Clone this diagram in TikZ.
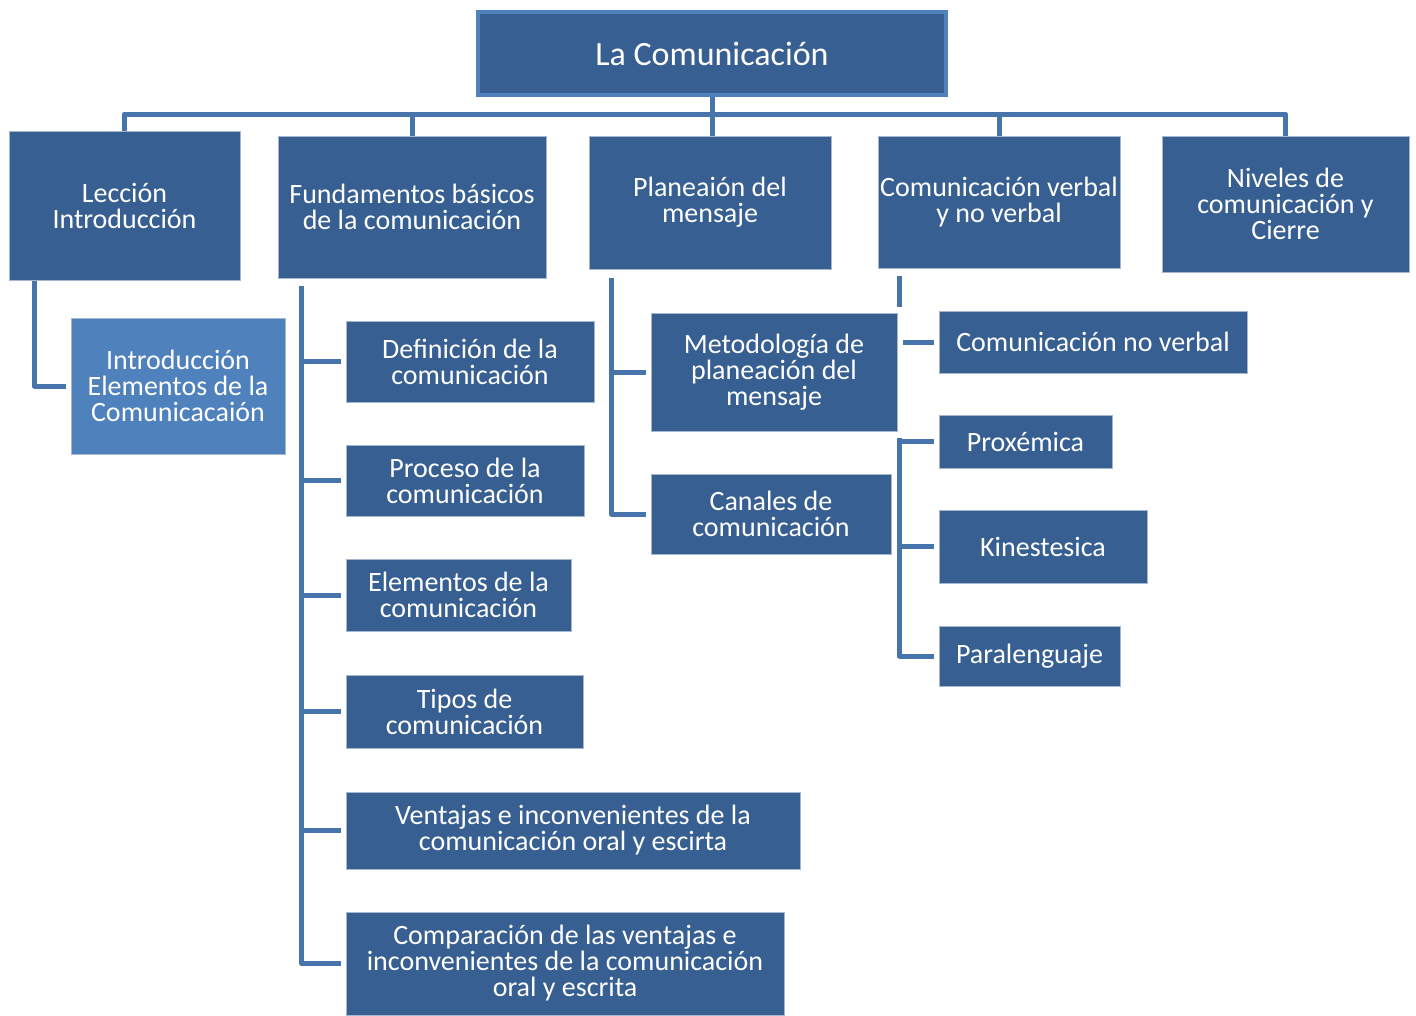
\documentclass[tikz,border=0pt]{standalone}
\usepackage{fontspec}
\setmainfont{Carlito}
\usepackage{tikz}
\usetikzlibrary{positioning,calc}

\definecolor{boxblue}{HTML}{375F91}
\definecolor{lightblue}{HTML}{4F81BD}
\definecolor{linkblue}{HTML}{4874AC}

\begin{document}
\begin{tikzpicture}[
    x=1pt, y=-1pt,
    box/.style={rectangle, fill=boxblue, draw=white!55!boxblue, line width=1pt, text=white,
        align=center, inner sep=2pt, font=\fontsize{28}{26}\selectfont},
    lightbox/.style={box, fill=lightblue},
    rootbox/.style={box, draw=lightblue, line width=4pt, font=\fontsize{34}{34}\selectfont},
    conn/.style={draw=linkblue, line width=5pt, line join=round}
]
    \useasboundingbox (0,0) rectangle (1416,1015);

    % top level
    \node[rootbox, minimum width=468pt, minimum height=83pt] (root) at (712,53.5) {La Comunicación};

    \node[box, minimum width=231pt, minimum height=149pt] (leccion) at (124.5,205.5) {Lección\\Introducción};
    \node[box, minimum width=268pt, minimum height=142pt] (fund) at (412,207) {Fundamentos básicos\\de la comunicación};
    \node[box, minimum width=242pt, minimum height=133pt] (plan) at (710,202.5) {Planeaión del\\mensaje};
    \node[box, minimum width=242pt, minimum height=132pt] (verbal) at (999,202) {Comunicación verbal\\y no verbal};
    \node[box, minimum width=247pt, minimum height=136pt] (niveles) at (1285.5,204) {Niveles de\\comunicación y\\Cierre};

    % second level
    \node[lightbox, minimum width=214pt, minimum height=136pt] (intro) at (178,386) {Introducción\\Elementos de la\\Comunicacaión};

    \node[box, minimum width=248pt, minimum height=81pt] (definicion) at (470,361.5) {Definición de la\\comunicación};
    \node[box, minimum width=238pt, minimum height=71pt] (proceso) at (465,480.5) {Proceso de la\\comunicación};
    \node[box, minimum width=225pt, minimum height=72pt] (elementos) at (458.5,595) {Elementos de la\\comunicación};
    \node[box, minimum width=237pt, minimum height=73pt] (tipos) at (464.5,711.5) {Tipos de\\comunicación};
    \node[box, minimum width=454pt, minimum height=77pt] (ventajas) at (573,830.5) {Ventajas e inconvenientes de la\\comunicación oral y escirta};
    \node[box, minimum width=438pt, minimum height=103pt] (comparacion) at (565,963.5) {Comparación de las ventajas e\\inconvenientes de la comunicación\\oral y escrita};

    \node[box, minimum width=246pt, minimum height=118pt] (metodologia) at (774,372) {Metodología de\\planeación del\\mensaje};
    \node[box, minimum width=240pt, minimum height=80pt] (canales) at (771,514) {Canales de\\comunicación};

    \node[box, minimum width=308pt, minimum height=62pt] (noverbal) at (1093,342) {Comunicación no verbal};
    \node[box, minimum width=173pt, minimum height=53pt] (proxemica) at (1025.5,441.5) {Proxémica};
    \node[box, minimum width=208pt, minimum height=73pt] (kinestesica) at (1043,546.5) {Kinestesica};
    \node[box, minimum width=181pt, minimum height=60pt] (paralenguaje) at (1029.5,656) {Paralenguaje};

    % bus from the root
    \coordinate (bus) at (0,114);
    \draw[conn] (root.south) -- (root.south |- plan.north);
    \draw[conn] (leccion.north) -- (leccion.north |- bus) -- (niveles.north |- bus) -- (niveles.north);
    \draw[conn] (fund.north |- bus) -- (fund.north);
    \draw[conn] (verbal.north |- bus) -- (verbal.north);

    % Leccion
    \draw[conn] ([xshift=26pt]leccion.south west) |- ([xshift=-5pt]intro.west);

    % Fundamentos
    \coordinate (fspine) at ([xshift=24pt,yshift=-7pt]fund.south west);
    \draw[conn] (fspine) |- ([xshift=-5pt]comparacion.west);
    \draw[conn] (fspine |- definicion.west) -- ([xshift=-5pt]definicion.west);
    \draw[conn] (fspine |- proceso.west) -- ([xshift=-5pt]proceso.west);
    \draw[conn] (fspine |- elementos.west) -- ([xshift=-5pt]elementos.west);
    \draw[conn] (fspine |- tipos.west) -- ([xshift=-5pt]tipos.west);
    \draw[conn] (fspine |- ventajas.west) -- ([xshift=-5pt]ventajas.west);

    % Planeacion
    \coordinate (pspine) at ([xshift=23pt,yshift=-8pt]plan.south west);
    \draw[conn] (pspine) |- ([xshift=-5pt]canales.west);
    \draw[conn] (pspine |- metodologia.west) -- ([xshift=-5pt]metodologia.west);

    % Comunicacion verbal y no verbal
    \coordinate (vspine) at ([xshift=22pt,yshift=-7pt]verbal.south west);
    \draw[conn] (vspine) -- ([yshift=6pt]vspine |- metodologia.north);
    \draw[conn] ([yshift=-6pt]vspine |- metodologia.south) |- ([xshift=-5pt]paralenguaje.west);
    \draw[conn] ([xshift=3pt]vspine |- noverbal.west) -- ([xshift=-5pt]noverbal.west);
    \draw[conn] (vspine |- proxemica.west) -- ([xshift=-5pt]proxemica.west);
    \draw[conn] (vspine |- kinestesica.west) -- ([xshift=-5pt]kinestesica.west);
\end{tikzpicture}
\end{document}
